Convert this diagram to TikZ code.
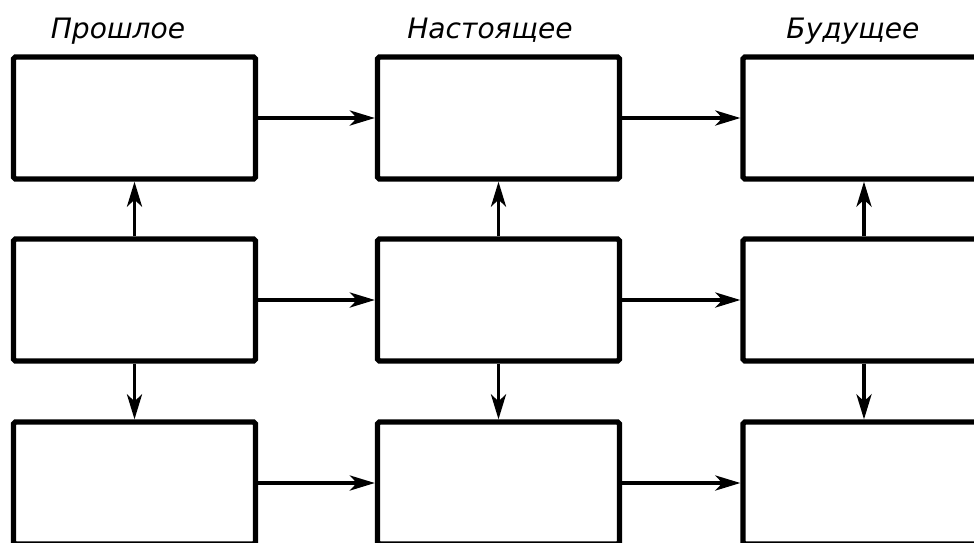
\documentclass[tikz,border=0pt]{standalone}
\usepackage{fontspec}
\setmainfont{DejaVu Sans}
\usetikzlibrary{arrows.meta}

\tikzset{
  blok/.style={draw, line width=3pt, rounded corners=1pt, minimum width=4.84cm, minimum height=2.44cm, inner sep=0pt},
  strelka/.style={line width=2.2pt, -{Stealth[length=0.5cm, width=0.3cm, inset=0.14cm]}},
  vremya/.style={font=\fontsize{16}{18}\selectfont\itshape, anchor=base}
}

\begin{document}
\begin{tikzpicture}[x=0.02cm, y=-0.02cm]
            \useasboundingbox (0,0) rectangle (974,542);
            \clip (0,0) rectangle (974,542);

            % bloki: stroki i stolbcy
            \foreach \r/\ry in {1/118, 2/300, 3/483} {
                \foreach \c/\cx in {1/134.5, 2/498.5, 3/864} {
                    \node[blok] (b\r\c) at (\cx,\ry) {};
                }
            }

            % gorizontalnye strelki
            \foreach \r in {1,2,3} {
                \draw[strelka] (b\r1.east) -- (b\r2.west);
                \draw[strelka] (b\r2.east) -- (b\r3.west);
            }

            % vertikalnye strelki
            \foreach \c in {1,2,3} {
                \draw[strelka] (b2\c.north) -- (b1\c.south);
                \draw[strelka] (b2\c.south) -- (b3\c.north);
            }

            \node[vremya] (proshloe) at (118,38) {Прошлое};
            \node[vremya] (nastoyashchee) at (490,38) {Настоящее};
            \node[vremya] (budushchee) at (853,38) {Будущее};
        \end{tikzpicture}
\end{document}
